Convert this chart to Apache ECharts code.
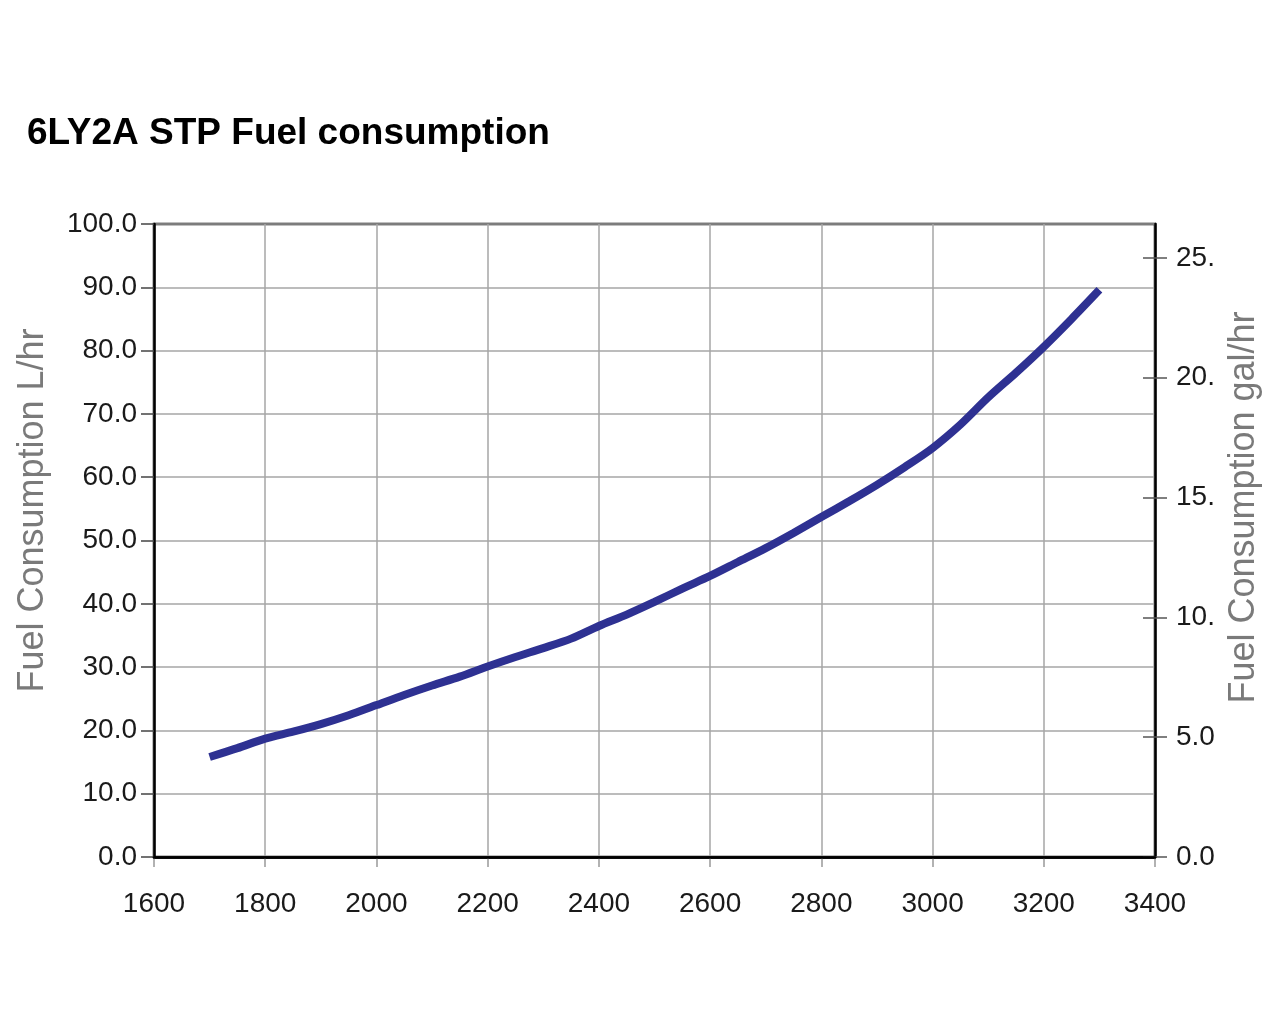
<!DOCTYPE html>
<html>
<head>
<meta charset="utf-8">
<script src="https://cdn.jsdelivr.net/npm/echarts@6/dist/echarts.min.js"></script>
<style>
html,body{margin:0;padding:0;background:#fff;}
#c{width:1280px;height:1024px;}
</style>
</head>
<body>
<div id="c"></div>
<script>
var titleText = '6LY2A STP Fuel consumption';
var leftAxisName = 'Fuel Consumption L/hr';
var rightAxisName = 'Fuel Consumption gal/hr';
var rpm = [1700,1750,1800,1850,1900,1950,2000,2050,2100,2150,2200,2250,2300,2350,2400,2450,2500,2550,2600,2650,2700,2750,2800,2850,2900,2950,3000,3050,3100,3150,3200,3250,3300];
var fuelLph = [15.8,17.2,18.7,19.8,21.0,22.4,24.0,25.6,27.1,28.5,30.1,31.6,33.0,34.5,36.5,38.3,40.3,42.4,44.4,46.6,48.8,51.2,53.7,56.2,58.8,61.6,64.6,68.3,72.6,76.5,80.6,85.0,89.6];
var galTicks = [0,5,10,15,20,25];
var galMax = 26.417;

var chart = echarts.init(document.getElementById('c'), null, {renderer:'canvas'});
var fontFam = 'Liberation Sans, Arial, sans-serif';
var seriesData = rpm.map(function(r,i){return [r, fuelLph[i]];});
chart.setOption({
  animation:false,
  backgroundColor:'#fff',
  title:{
    text:titleText, left:22, top:110,
    textStyle:{fontFamily:fontFam, fontWeight:'bold', fontSize:37, color:'#000'}
  },
  grid:{left:154, right:125, top:224, bottom:167, show:true, borderColor:'#000', borderWidth:2.5, backgroundColor:'transparent'},
  xAxis:[{
    type:'value', min:1600, max:3400, interval:200, position:'bottom',
    axisLine:{show:true, lineStyle:{color:'#000', width:2.5}},
    axisTick:{show:true, length:10, lineStyle:{color:'#999', width:1.5}},
    axisLabel:{margin:33, fontSize:28, color:'#1a1a1a', fontFamily:fontFam, formatter:function(v){return String(v);}},
    splitLine:{show:true, lineStyle:{color:'#a6a6a6', width:1.5}}
  },{
    type:'value', min:1600, max:3400, interval:200, position:'top', z:10,
    axisLine:{show:true, lineStyle:{color:'#000', width:2.5}},
    axisTick:{show:false}, axisLabel:{show:false}, splitLine:{show:false}
  }],
  yAxis:[{
    type:'value', min:0, max:100, interval:10, position:'left',
    name:leftAxisName, nameLocation:'middle', nameGap:103, nameRotate:90,
    nameTextStyle:{fontSize:36, color:'#7a7a7a', fontFamily:fontFam, padding:[0,0,0,60]},
    axisLine:{show:true, lineStyle:{color:'#000', width:2.5}},
    axisTick:{show:true, length:13, lineStyle:{color:'#444', width:1.5}},
    axisLabel:{margin:17, fontSize:28, color:'#1a1a1a', fontFamily:fontFam, formatter:function(v){return v.toFixed(1);}},
    splitLine:{show:true, lineStyle:{color:'#a6a6a6', width:1.5}}
  },{
    type:'value', min:0, max:galMax, position:'right',
    name:rightAxisName, nameLocation:'middle', nameGap:62, nameRotate:90,
    nameTextStyle:{fontSize:36, color:'#7a7a7a', fontFamily:fontFam, padding:[0,0,0,66]},
    axisLine:{show:true, lineStyle:{color:'#000', width:2.5}},
    axisTick:{show:true, length:12, customValues:galTicks, lineStyle:{color:'#555', width:1.5}},
    axisLabel:{margin:21, fontSize:28, color:'#1a1a1a', fontFamily:fontFam, customValues:galTicks,
      formatter:function(v){return v.toFixed(1).slice(0,3);}},
    splitLine:{show:false}
  },{
    type:'value', min:0, max:galMax, position:'right',
    axisLine:{show:false},
    axisTick:{show:true, inside:true, length:12, customValues:galTicks, lineStyle:{color:'#555', width:1.5}},
    axisLabel:{show:false},
    splitLine:{show:false}
  }],
  series:[{
    type:'line', data:seriesData, xAxisIndex:0, yAxisIndex:0, smooth:0.3, symbol:'none',
    lineStyle:{color:'#2e3192', width:8, cap:'butt'}
  }]
});
</script>
</body>
</html>
